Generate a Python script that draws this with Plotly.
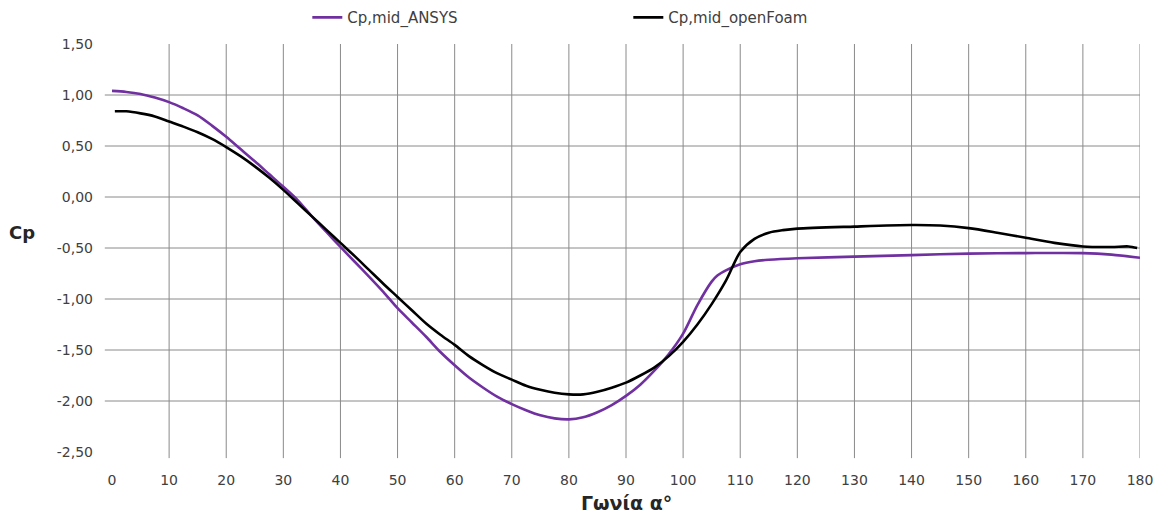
import plotly.graph_objects as go

# ---- data ----
angle_ansys = [0, 2.5, 5, 7.5, 10, 12.5, 15, 17.5, 20, 22.5, 25, 27.5, 30, 32.5, 35, 37.5,
               40, 42.5, 45, 47.5, 50, 52.5, 55, 57.5, 60, 62.5, 65, 67.5, 70, 72.5, 75,
               77.5, 80, 82.5, 85, 87.5, 90, 92.5, 95, 97.5, 100, 102.5, 105, 106, 107.5,
               110, 112.5, 115, 120, 130, 140, 150, 160, 170, 175, 180]
cp_ansys = [1.04, 1.03, 1.01, 0.975, 0.93, 0.87, 0.80, 0.70, 0.59, 0.47, 0.35, 0.225, 0.10,
            -0.03, -0.19, -0.34, -0.49, -0.635, -0.78, -0.93, -1.09, -1.23, -1.37, -1.52,
            -1.65, -1.77, -1.87, -1.96, -2.03, -2.09, -2.14, -2.17, -2.18, -2.16, -2.11,
            -2.04, -1.95, -1.84, -1.70, -1.54, -1.34, -1.06, -0.83, -0.77, -0.72, -0.66,
            -0.63, -0.615, -0.60, -0.585, -0.57, -0.555, -0.55, -0.55, -0.565, -0.595]

angle_foam = [0.5, 2.5, 5, 7.5, 10, 12.5, 15, 17.5, 20, 22.5, 25, 27.5, 30, 32.5, 35, 37.5,
              40, 42.5, 45, 47.5, 50, 52.5, 55, 57.5, 60, 62.5, 65, 67.5, 70, 72.5, 75,
              77.5, 80, 82.5, 85, 87.5, 90, 92.5, 95, 97.5, 100, 102.5, 105, 107.5, 110,
              112.5, 115, 117.5, 120, 130, 140, 145, 150, 155, 160, 165, 170, 175, 178, 179.5]
cp_foam = [0.84, 0.84, 0.82, 0.79, 0.74, 0.69, 0.635, 0.57, 0.49, 0.40, 0.30, 0.19, 0.07,
           -0.06, -0.19, -0.32, -0.45, -0.58, -0.715, -0.85, -0.98, -1.11, -1.24, -1.35,
           -1.45, -1.56, -1.65, -1.73, -1.79, -1.85, -1.89, -1.92, -1.935, -1.935, -1.91,
           -1.87, -1.82, -1.75, -1.67, -1.56, -1.42, -1.25, -1.05, -0.82, -0.54, -0.41,
           -0.35, -0.325, -0.31, -0.29, -0.275, -0.28, -0.305, -0.35, -0.40, -0.45, -0.485,
           -0.49, -0.485, -0.50]

x_ticks = list(range(0, 181, 10))
y_ticks = [1.5, 1.0, 0.5, 0.0, -0.5, -1.0, -1.5, -2.0, -2.5]
y_tick_text = ["1,50", "1,00", "0,50", "0,00", "-0,50", "-1,00", "-1,50", "-2,00", "-2,50"]

series_names = ["Cp,mid_ANSYS", "Cp,mid_openFoam"]
series_colors = ["#7030A0", "#000000"]

FONT = "'DejaVu Sans', sans-serif"
GRID = "#8a8a8a"

fig = go.Figure()
fig.add_trace(go.Scatter(x=angle_ansys, y=cp_ansys, mode="lines", name=series_names[0],
                         line=dict(color=series_colors[0], width=2.6, shape="spline", smoothing=0.8)))
fig.add_trace(go.Scatter(x=angle_foam, y=cp_foam, mode="lines", name=series_names[1],
                         line=dict(color=series_colors[1], width=2.6, shape="spline", smoothing=0.8)))

# grid lines (Excel style: no lines on the outer edges at 0, 1.50 and -2.50)
shapes = []
for xv in x_ticks[1:]:
    shapes.append(dict(type="line", xref="x", yref="paper", x0=xv, x1=xv, y0=-0.015, y1=1,
                       line=dict(color=GRID, width=1), layer="below"))
for yv in y_ticks[1:-1]:
    shapes.append(dict(type="line", xref="paper", yref="y", x0=-0.007, x1=1, y0=yv, y1=yv,
                       line=dict(color=GRID, width=1), layer="below"))

fig.update_layout(
    width=1160, height=519,
    margin=dict(l=112, r=20, t=44, b=67, autoexpand=False),
    paper_bgcolor="white", plot_bgcolor="white",
    font=dict(family=FONT, size=14, color="#404040"),
    shapes=shapes,
    showlegend=True,
    legend=dict(orientation="h", x=0.19, xanchor="left", y=1.105, yanchor="top",
                entrywidth=276, entrywidthmode="pixels",
                font=dict(family=FONT, size=15, color="#404040"),
                bgcolor="rgba(0,0,0,0)"),
    xaxis=dict(range=[0, 180], tickvals=x_ticks, ticktext=[str(v) for v in x_ticks],
               showgrid=False, zeroline=False, showline=False, ticks="",
               ticklabelstandoff=18, tickfont=dict(size=14, color="#404040")),
    yaxis=dict(range=[-2.5, 1.5], tickvals=y_ticks, ticktext=y_tick_text,
               showgrid=False, zeroline=False, showline=False, ticks="",
               ticklabelstandoff=18, tickfont=dict(size=14, color="#404040")),
    annotations=[
        dict(text="<b>Γωνία α°</b>", xref="paper", yref="paper", x=0.5, y=-0.125,
             xanchor="center", yanchor="middle", showarrow=False,
             font=dict(family=FONT, size=19, color="#262626")),
        dict(text="<b>Cp</b>", xref="paper", yref="paper", x=-0.0875, y=0.539,
             xanchor="center", yanchor="middle", showarrow=False,
             font=dict(family=FONT, size=18, color="#262626")),
    ],
)

fig.write_html("out.html")
